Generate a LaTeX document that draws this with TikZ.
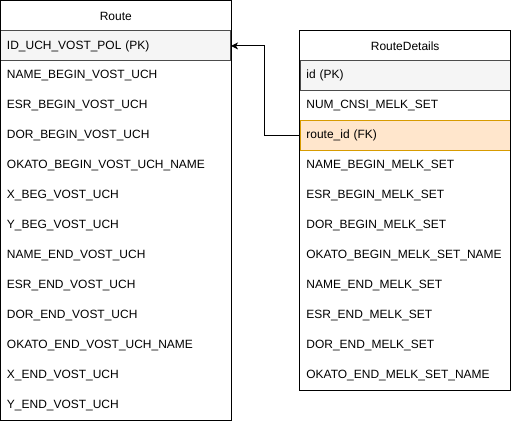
\documentclass[tikz,border=0pt]{standalone}
\usepackage{fontspec}
\setmainfont{Liberation Sans}
\usetikzlibrary{positioning,arrows.meta}
\definecolor{pkgray}{HTML}{F5F5F5}
\definecolor{fkfill}{HTML}{FFE6CC}
\definecolor{fkline}{HTML}{D79B00}

\begin{document}
\begin{tikzpicture}[x=1pt, y=-1pt, >={Stealth[length=7pt,width=7pt,inset=2pt]},
    line width=1pt, font=\fontsize{12}{14}\selectfont]
  \tikzset{
    header/.style={minimum height=30pt, inner sep=0pt, anchor=north west},
    row/.style={minimum height=30pt, inner xsep=6pt, inner ysep=0pt,
      align=left, anchor=north west},
    pkrow/.style={row, fill=pkgray, draw=black!70},
    fkrow/.style={row, fill=fkfill, draw=fkline}
  }
  \useasboundingbox (0,0) rectangle (512,422);

  % ===== Route =====
  \node[header, minimum width=230pt] (route) at (0.5,0.5) {Route};
  \node[pkrow, text width=218pt] (r1) at (0.5,30.5) {ID\_UCH\_VOST\_POL (PK)};
  \foreach \name [count=\i from 2] in {NAME\_BEGIN\_VOST\_UCH, ESR\_BEGIN\_VOST\_UCH,
      DOR\_BEGIN\_VOST\_UCH, OKATO\_BEGIN\_VOST\_UCH\_NAME, X\_BEG\_VOST\_UCH,
      Y\_BEG\_VOST\_UCH, NAME\_END\_VOST\_UCH, ESR\_END\_VOST\_UCH,
      DOR\_END\_VOST\_UCH, OKATO\_END\_VOST\_UCH\_NAME, X\_END\_VOST\_UCH,
      Y\_END\_VOST\_UCH}
    \node[row, text width=218pt] (r\i) at (0.5,{30.5+30*(\i-1)}) {\name};
  \draw (route.north west) rectangle (r13.south east);

  % ===== RouteDetails =====
  \node[header, minimum width=210pt] (details) at (300.5,30.5) {RouteDetails};
  \node[pkrow, text width=198pt] (d1) at (300.5,60.5) {id (PK)};
  \node[row, text width=198pt] (d2) at (300.5,90.5) {NUM\_CNSI\_MELK\_SET};
  \node[fkrow, text width=198pt] (d3) at (300.5,120.5) {route\_id (FK)};
  \foreach \name [count=\i from 4] in {NAME\_BEGIN\_MELK\_SET, ESR\_BEGIN\_MELK\_SET,
      DOR\_BEGIN\_MELK\_SET, OKATO\_BEGIN\_MELK\_SET\_NAME, NAME\_END\_MELK\_SET,
      ESR\_END\_MELK\_SET, DOR\_END\_MELK\_SET, OKATO\_END\_MELK\_SET\_NAME}
    \node[row, text width=198pt] (d\i) at (300.5,{120.5+30*(\i-3)}) {\name};
  \draw (details.north west) rectangle (d11.south east);

  % foreign key link
  \draw[->] (d3.west) -- ++(-35,0) |- (r1.east);
\end{tikzpicture}
\end{document}
